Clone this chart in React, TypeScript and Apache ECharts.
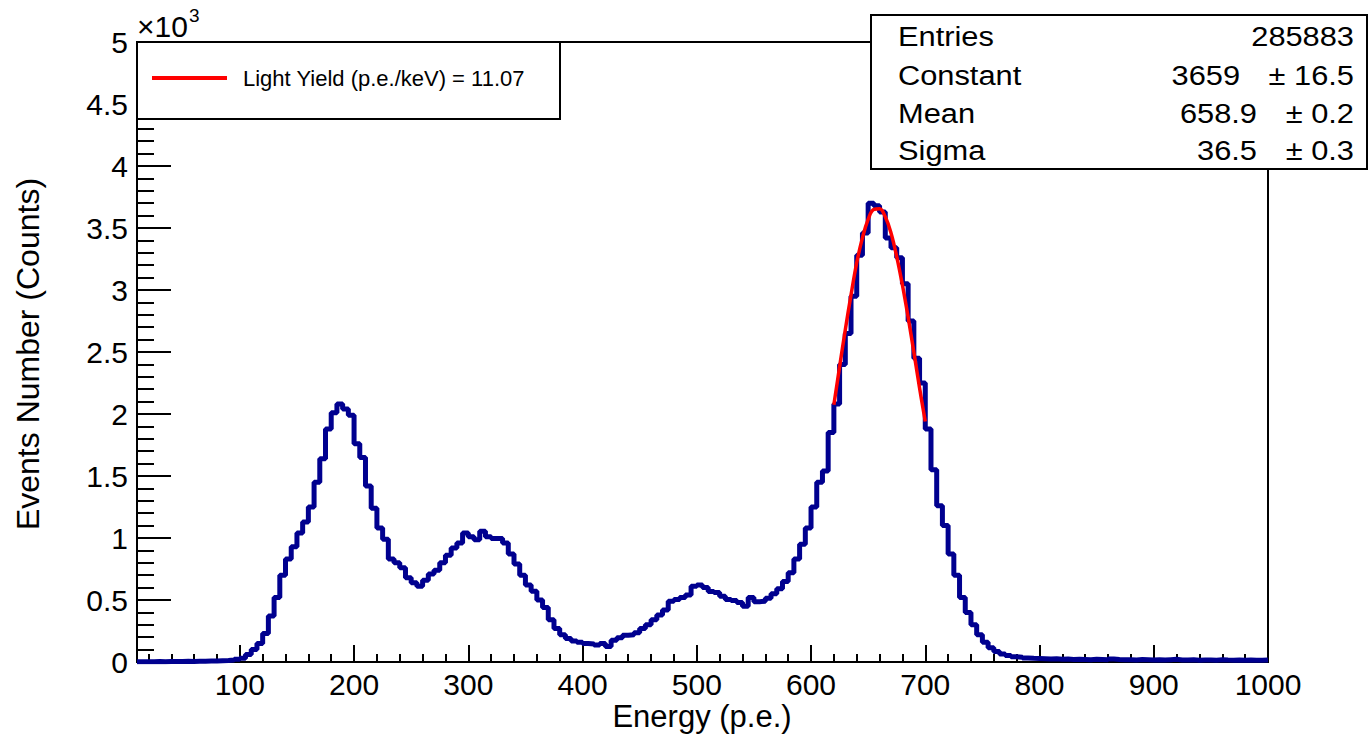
import React, { useEffect, useRef } from "react";
import * as echarts from "echarts";

// Histogram: bins of 5 p.e. starting at 10 p.e.
const binStart = 10;
const binWidth = 5;
const counts = [
  // 10 - 95
  3, 2, 3, 4, 3, 4, 5, 4, 6, 5, 6, 7, 8, 9, 11, 13, 16, 22,
  // 100 - 195
  30, 60, 100, 150, 230, 370, 520, 700, 830, 930, 1040, 1130, 1250, 1450, 1640, 1880, 2010, 2080, 2040, 1990,
  // 200 - 295
  1760, 1650, 1420, 1240, 1080, 990, 830, 800, 760, 680, 640, 610, 660, 710, 740, 800, 860, 920, 960, 1040,
  // 300 - 395
  1010, 985, 1055, 1010, 995, 995, 960, 870, 790, 700, 620, 570, 500, 440, 340, 270, 220, 190, 170, 160,
  // 400 - 495
  150, 145, 138, 150, 125, 175, 195, 215, 220, 235, 270, 300, 340, 380, 420, 490, 505, 520, 540, 610,
  // 500 - 595
  620, 600, 568, 560, 530, 505, 495, 480, 450, 520, 486, 490, 515, 550, 590, 650, 720, 830, 950, 1080,
  // 600 - 695
  1250, 1450, 1540, 1850, 2080, 2400, 2650, 2950, 3280, 3460, 3700, 3680, 3630, 3420, 3340, 3260, 3050, 2750, 2450, 2250,
  // 700 - 795
  1880, 1550, 1260, 1100, 870, 700, 520, 400, 300, 220, 160, 115, 85, 65, 52, 42, 38, 32, 30, 29,
  // 800 - 895
  27, 25, 26, 22, 24, 20, 22, 21, 19, 22, 20, 18, 24, 20, 18, 19, 17, 20, 19, 17,
  // 900 - 995
  18, 16, 19, 22, 17, 16, 18, 15, 17, 16, 15, 18, 16, 15, 17, 14, 16, 15, 14, 16,
];

// Gaussian fit curve (620 - 700 p.e.)
const fitEnergy = [620, 625, 630, 635, 640, 645, 650, 655, 660, 665, 670, 675, 680, 685, 690, 695, 700];
const fitCounts = [2075, 2380, 2680, 2960, 3220, 3420, 3570, 3650, 3655, 3590, 3460, 3270, 3040, 2780, 2500, 2210, 1940];

const xMajorTicks = [100, 200, 300, 400, 500, 600, 700, 800, 900, 1000];
const xMinorTicks = [
  20, 40, 60, 80, 120, 140, 160, 180, 220, 240, 260, 280, 320, 340, 360, 380,
  420, 440, 460, 480, 520, 540, 560, 580, 620, 640, 660, 680, 720, 740, 760, 780,
  820, 840, 860, 880, 920, 940, 960, 980,
];

const xTitle = "Energy (p.e.)";
const yTitle = "Events Number (Counts)";
const legendLabel = "Light Yield (p.e./keV) = 11.07";
const statNames = ["Entries", "Constant", "Mean", "Sigma"];
const statValues = ["285883", "3659", "658.9", "36.5"];
const statErrors = ["", "\u00b1 16.5", "\u00b1 0.2", "\u00b1 0.3"];

const FONT = "Liberation Sans, Arial, sans-serif";

export default function App() {
  const ref = useRef<HTMLDivElement>(null);

  useEffect(() => {
    if (!ref.current) return;
    const chart = echarts.init(ref.current, undefined, { renderer: "svg" });

    const histData: [number, number][] = counts.map((c, i) => [binStart + i * binWidth, c]);
    histData.push([binStart + counts.length * binWidth, counts[counts.length - 1]]);
    const fitData = fitEnergy.map((e, i) => [e, fitCounts[i]]);

    const statRowsY = [36, 75, 113, 150];
    const statValueRight = [1354, 1240, 1257, 1257];
    const statTexts: any[] = [];
    statNames.forEach((n, i) => {
      statTexts.push({
        type: "text", x: 898, y: statRowsY[i], scaleX: 1.1,
        style: { text: n, font: `28px ${FONT}`, fill: "#000", align: "left", verticalAlign: "middle" },
      });
      statTexts.push({
        type: "text", x: statValueRight[i], y: statRowsY[i], scaleX: 1.1,
        style: { text: statValues[i], font: `28px ${FONT}`, fill: "#000", align: "right", verticalAlign: "middle" },
      });
      if (statErrors[i]) {
        statTexts.push({
          type: "text", x: 1354, y: statRowsY[i], scaleX: 1.1,
          style: { text: statErrors[i], font: `28px ${FONT}`, fill: "#000", align: "right", verticalAlign: "middle" },
        });
      }
    });

    chart.setOption({
      animation: false,
      backgroundColor: "#fff",
      grid: {
        left: 137, right: 102, top: 42, bottom: 73,
        containLabel: false, outerBoundsMode: "none",
        show: true, borderColor: "#000", borderWidth: 2, backgroundColor: "transparent",
      },
      xAxis: [
        {
          type: "value", min: 10, max: 1000, splitNumber: 10, position: "bottom",
          axisLine: { show: true, onZero: false, lineStyle: { color: "#000", width: 2 } },
          axisTick: { show: true, inside: true, length: 17, customValues: xMajorTicks, lineStyle: { color: "#000", width: 2 } },
          axisLabel: {
            customValues: xMajorTicks, formatter: (v: number) => String(v),
            fontSize: 30, fontFamily: FONT, color: "#000", margin: 7,
          },
          splitLine: { show: false },
        },
        {
          type: "value", min: 10, max: 1000, position: "bottom",
          axisLine: { show: false, onZero: false },
          axisTick: { show: true, inside: true, length: 8, customValues: xMinorTicks, lineStyle: { color: "#000", width: 2 } },
          axisLabel: { show: false },
          splitLine: { show: false },
        },
      ],
      yAxis: {
        type: "value", min: 0, max: 5000, interval: 500,
        axisLine: { show: true, onZero: false, lineStyle: { color: "#000", width: 2 } },
        axisTick: { show: true, inside: true, length: 34, lineStyle: { color: "#000", width: 2 } },
        minorTick: { show: true, splitNumber: 5, length: 17, lineStyle: { color: "#000", width: 2 } },
        axisLabel: {
          formatter: (v: number) => String(v / 1000),
          fontSize: 30, fontFamily: FONT, color: "#000", margin: 9,
        },
        splitLine: { show: false },
      },
      series: [
        {
          type: "line", name: "histogram", data: histData, step: "end",
          showSymbol: false, symbol: "none",
          lineStyle: { color: "#00008f", width: 5 }, z: 2,
        },
        {
          type: "line", name: legendLabel, data: fitData, smooth: 0.4,
          showSymbol: false, symbol: "none",
          lineStyle: { color: "#ff0000", width: 3.5 }, z: 3,
        },
      ],
      graphic: [
        {
          type: "text", x: 702, y: 716,
          style: { text: xTitle, font: `31px ${FONT}`, fill: "#000", align: "center", verticalAlign: "middle" },
        },
        {
          type: "text", x: 28, y: 354, rotation: Math.PI / 2,
          style: { text: yTitle, font: `32px ${FONT}`, fill: "#000", align: "center", verticalAlign: "middle" },
        },
        {
          type: "text", x: 137, y: 41,
          style: { text: "\u00d710", font: `30px ${FONT}`, fill: "#000", align: "left", verticalAlign: "bottom" },
        },
        {
          type: "text", x: 189, y: 25,
          style: { text: "3", font: `19px ${FONT}`, fill: "#000", align: "left", verticalAlign: "bottom" },
        },
        {
          type: "rect", shape: { x: 137, y: 42, width: 423, height: 77 },
          style: { fill: "#fff", stroke: "#000", lineWidth: 2 }, z: 10,
        },
        {
          type: "line", shape: { x1: 152, y1: 78, x2: 227, y2: 78 },
          style: { stroke: "#ff0000", lineWidth: 4 }, z: 11,
        },
        {
          type: "text", x: 243, y: 78, z: 11,
          style: { text: legendLabel, font: `22px ${FONT}`, fill: "#000", align: "left", verticalAlign: "middle" },
        },
        {
          type: "rect", shape: { x: 871, y: 15, width: 496, height: 154 },
          style: { fill: "#fff", stroke: "#000", lineWidth: 2 }, z: 10,
        },
        ...statTexts.map((t) => ({ ...t, z: 11 })),
      ],
    });

    return () => chart.dispose();
  }, []);

  return (
    <div
      ref={ref}
      style={{ position: "absolute", left: 0, top: 0, width: 1370, height: 735 }}
    />
  );
}
